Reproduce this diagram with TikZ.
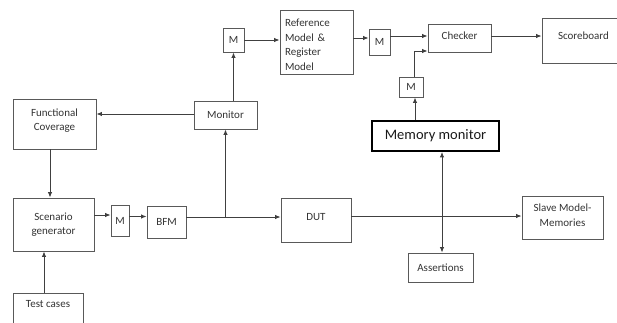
\documentclass[tikz,border=0pt]{standalone}
\usepackage{fontspec}
\setmainfont{Carlito}
\usetikzlibrary{arrows.meta,calc}
\begin{document}
\begin{tikzpicture}[x=1pt,y=-1pt,
  box/.style={draw=black!65, line width=0.9pt, rectangle, inner sep=0pt, align=center, text=black!80,
     font=\fontsize{11}{14.5}\selectfont},
  arr/.style={draw=black!75, line width=0.9pt, -{Latex[length=5.5pt,width=4.5pt]}},
  biarr/.style={draw=black!75, line width=0.9pt, {Latex[length=5.5pt,width=4.5pt]}-{Latex[length=5.5pt,width=4.5pt]}}]
\useasboundingbox (0,0) rectangle (617,322);
\clip (0,0) rectangle (617,322);
% boxes
\node[box, minimum width=83pt, minimum height=50pt, text depth=9pt] (fc) at (54.5,124) {Functional\\Coverage};
\node[box, minimum width=81pt, minimum height=53pt] (scen) at (53.5,224.5) {Scenario\\generator};
\node[box, minimum width=70pt, minimum height=37pt] (tc) at (48,311.5) {};
\node[text=black!80, font=\fontsize{11}{14.5}\selectfont, inner sep=0pt] (tctext) at (48,304) {Test cases};
\node[box, minimum width=18pt, minimum height=31pt] (m4) at (120,220.5) {M};
\node[box, minimum width=39pt, minimum height=32pt] (bfm) at (166.5,222) {BFM};
\node[box, minimum width=70pt, minimum height=44pt, text depth=7pt] (dut) at (316,220) {DUT};
\node[box, minimum width=63pt, minimum height=28pt] (mon) at (225.5,115) {Monitor};
\node[box, minimum width=21pt, minimum height=24pt] (m1) at (233.5,40) {M};
\node[box, minimum width=73pt, minimum height=64pt, text width=63pt, align=left, text height=13pt] (ref) at (316.5,42) {Reference\\Model \&\\Register\\Model};
\node[box, minimum width=21pt, minimum height=26pt] (m2) at (379.5,42) {M};
\node[box, minimum width=63pt, minimum height=28pt, text depth=5pt] (chk) at (459.5,38) {Checker};
\node[box, minimum width=83pt, minimum height=45pt, text depth=9pt] (sb) at (583.5,40.5) {Scoreboard};
\node[box, minimum width=24pt, minimum height=20pt] (m3) at (411,87) {M};
\node[box, draw=black, line width=1.8pt, minimum width=127pt, minimum height=30pt, font=\fontsize{14.5}{16}\selectfont, text=black!90] (mm) at (435.5,136) {Memory monitor};
\node[box, minimum width=65pt, minimum height=29pt] (asr) at (440.5,267.5) {Assertions};
\node[box, minimum width=81pt, minimum height=43pt, text depth=5pt] (slave) at (562.5,217.5) {Slave Model-\\Memories};
% helper coordinates
\coordinate (fcout) at ([xshift=-4.5pt]fc.south);
\coordinate (tcout) at ([xshift=-4pt]tc.north);
\coordinate (bfmout) at ([yshift=5pt]bfm.east);
\coordinate (monup) at ([xshift=8pt]mon.north);
\coordinate (m3in) at ([xshift=4pt]m3.south);
\coordinate (asrin) at ([xshift=1.5pt]asr.north);
\coordinate (m3out) at ([xshift=3pt]m3.north);
\coordinate (chkin2) at ([yshift=-13pt]chk.west);
\coordinate (chkout) at ([yshift=2pt]chk.east);
\coordinate (dutout) at ([yshift=4pt]dut.east);
\coordinate (refout) at ([yshift=4pt]ref.east);
\coordinate (m2out) at ([yshift=6pt]m2.east);
% connectors
\draw[arr] (fcout) -- (fcout |- scen.north);
\draw[arr] (tcout) -- (tcout |- scen.south);
\draw[arr] ([yshift=9.5pt]scen.east) -- ([yshift=5.5pt]m4.west);
\draw[arr] ([yshift=4pt]m4.east) -- ([yshift=5.5pt]bfm.west);
\draw[arr] (bfmout) -- (bfmout -| dut.west);
\draw[arr] (bfmout -| mon.south) -- (mon.south);
\draw[arr] ([yshift=1pt]mon.west) -- ([yshift=1pt]mon.west -| fc.east);
\draw[arr] (monup) -- (monup |- m1.south);
\draw[arr] (m1.east) -- (m1.east -| ref.west);
\draw[arr] (refout) -- (refout -| m2.west);
\draw[arr] (m2out) -- (m2out -| chk.west);
\draw[arr] (m3out) |- (chkin2);
\draw[arr] (m3in |- mm.north) -- (m3in);
\draw[arr] (chkout) -- (chkout -| sb.west);
\draw[arr] (dutout) -- (dutout -| slave.west);
\draw[biarr] (asrin |- mm.south) -- (asrin);
\end{tikzpicture}
\end{document}
